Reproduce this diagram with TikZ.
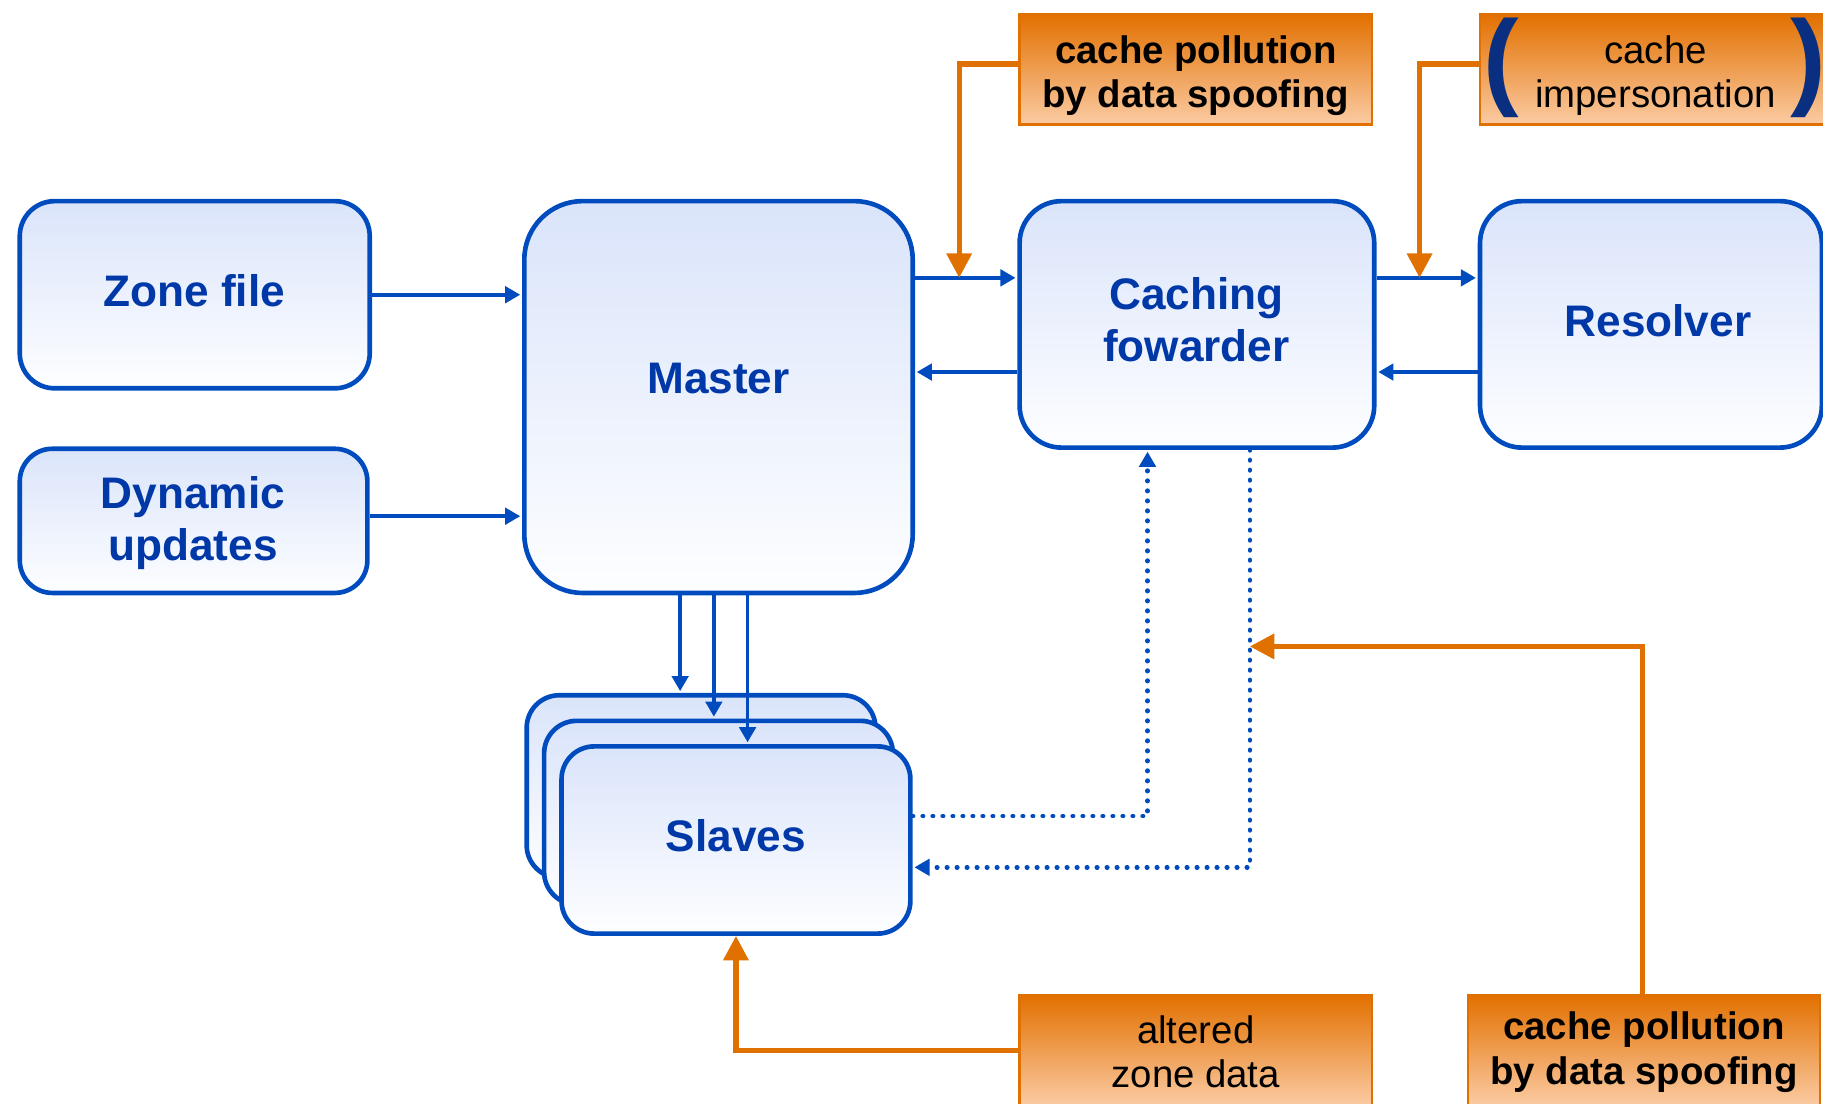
\documentclass[tikz,border=0pt]{standalone}
\usepackage{fontspec}
\setmainfont{Liberation Sans}
\usetikzlibrary{arrows.meta}

\definecolor{lineblue}{HTML}{004CBE}
\definecolor{txtblue}{HTML}{0038A8}
\definecolor{filltop}{HTML}{DAE4FA}
\definecolor{fillbot}{HTML}{FDFEFF}
\definecolor{orline}{HTML}{E07000}
\definecolor{ortop}{HTML}{E27000}
\definecolor{orbot}{HTML}{FBCBA3}
\definecolor{navy}{HTML}{0A2E80}

\tikzset{
  blk/.style={draw=lineblue, line width=4pt, rounded corners=#1,
    top color=filltop, bottom color=fillbot, inner sep=0pt},
  blk/.default=30pt,
  lbl/.style={text=txtblue, align=center, inner sep=0pt,
    font=\fontsize{38}{45}\selectfont\bfseries},
  obox/.style={draw=orline, line width=2pt, top color=ortop, bottom color=orbot,
    minimum width=303pt, minimum height=95pt, inner sep=0pt},
  otext/.style={text=black, align=center, inner sep=0pt,
    font=\fontsize{33}{38}\selectfont},
  otextb/.style={otext, font=\fontsize{33}{38}\selectfont\bfseries},
  paren/.style={text=navy, inner sep=0pt, font=\fontsize{92}{92}\selectfont\bfseries},
  barrow/.style={draw=lineblue, line width=3.3pt,
    -{Triangle[length=13pt,width=14pt]}, shorten >=1.5pt},
  dotarrow/.style={draw=lineblue, line width=4pt, line cap=round,
    dash pattern=on 0.4pt off 8.2pt, -{Triangle[length=13pt,width=14pt]}, shorten >=1.5pt},
  oarrow/.style={draw=orline, line width=4.5pt,
    -{Triangle[length=21pt,width=21pt]}},
}

\begin{document}
\begin{tikzpicture}[x=1pt,y=-1pt]
\useasboundingbox (0,0) rectangle (1568,949);
\clip (0,0) rectangle (1568,949);

% main boxes
\node[blk=30pt, minimum width=301pt, minimum height=161pt] (zone) at (167.5,253.5) {};
\node[lbl] (zonet) at (167,250) {Zone file};
\node[blk=28pt, minimum width=299pt, minimum height=124pt] (dyn) at (166.5,448) {};
\node[lbl] (dynt) at (166,450) {Dynamic\\updates};
\node[blk=50pt, minimum width=334pt, minimum height=337pt] (master) at (618,341.5) {};
\node[lbl] (mastert) at (618,326) {Master};
\node[blk=36pt, minimum width=305pt, minimum height=212pt] (cach) at (1029.5,279) {};
\node[lbl] (cacht) at (1029,275) {Caching\\fowarder};
\node[blk=36pt, minimum width=294pt, minimum height=212pt] (res) at (1420,279) {};
\node[lbl] (rest) at (1426,276) {Resolver};

% stacked slaves
\node[blk=28pt, minimum width=300pt, minimum height=157pt] (back) at (603,676.5) {};
\node[blk=28pt, minimum width=300pt, minimum height=158pt] (mid) at (618,699) {};
\node[blk=28pt, minimum width=300pt, minimum height=161pt] (front) at (633,722.5) {};
\node[lbl] (frontt) at (633,719) {Slaves};

% attack boxes
\node[obox] (ob1) at (1028.5,59.5) {};
\node[otextb] (ob1t) at (1028.5,65) {cache pollution\\by data spoofing};
\node[obox] (ob2) at (1424.5,59.5) {};
\node[otext] (ob2t) at (1424,65) {cache\\impersonation};
\node[paren] (lp) at (1291,58) {(};
\node[paren] (rp) at (1555,58) {)};
\node[obox] (ob3) at (1028.5,903.5) {};
\node[otext] (ob3t) at (1028.5,905) {altered\\zone data};
\node[obox] (ob4) at (1414,903.5) {};
\node[otextb] (ob4t) at (1414,905) {cache pollution\\by data spoofing};

% helper coordinates
\coordinate (r1) at (0,239);
\coordinate (r2) at (0,320);
\coordinate (d1) at (0,444);
\coordinate (s1) at (585,0);
\coordinate (s2) at (614,0);
\coordinate (s3) at (643,0);
\coordinate (k1) at (987,702);
\coordinate (k2) at (1075,746);
\coordinate (k3) at (825,55);
\coordinate (k4) at (1221,55);
\coordinate (k5) at (1413,556);

% data flow
\draw[barrow] (zone.east) -- (zone.east -| master.west);
\draw[barrow] (dyn.east |- d1) -- (master.west |- d1);
\draw[barrow] (master.east |- r1) -- (cach.west |- r1);
\draw[barrow] (cach.west |- r2) -- (master.east |- r2);
\draw[barrow] (cach.east |- r1) -- (res.west |- r1);
\draw[barrow] (res.west |- r2) -- (cach.east |- r2);
\draw[barrow] (master.south -| s1) -- (back.north -| s1);
\draw[barrow] (master.south -| s2) -- (mid.north -| s2);
\draw[barrow] (master.south -| s3) -- (front.north -| s3);

% queries between slaves and forwarder
\draw[dotarrow] (front.east |- k1) -| (k1 |- cach.south);
\draw[dotarrow] (k2 |- cach.south) |- (front.east |- k2);

% attack points
\draw[oarrow] (ob1.west |- k3) -| (k3 |- r1);
\draw[oarrow] (ob2.west |- k4) -| (k4 |- r1);
\draw[oarrow] (ob3.west) -| (front.south);
\draw[oarrow] (k5 |- ob4.north) |- (k2 |- k5);
\end{tikzpicture}
\end{document}
